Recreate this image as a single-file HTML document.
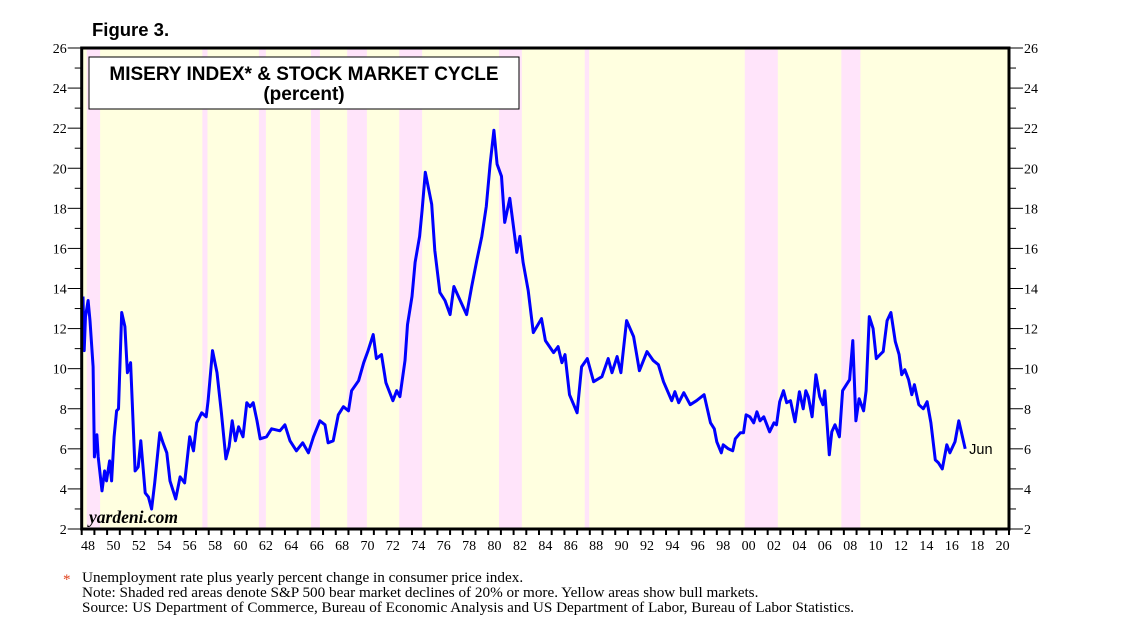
<!DOCTYPE html>
<html><head><meta charset="utf-8">
<style>
body{margin:0;background:#fff;width:1138px;height:628px;overflow:hidden}
svg{display:block}
</style></head><body>
<svg id="chart" width="1138" height="628" xmlns="http://www.w3.org/2000/svg">
<text x="92" y="36" font-family="Liberation Sans, sans-serif" font-weight="bold" font-size="18.5">Figure 3.</text>
<g id="plot"></g>
<text x="63" y="584" fill="#e0401a" font-family="Liberation Serif, serif" font-size="15">*</text>
<text x="82" y="582" font-family="Liberation Serif, serif" font-size="15.2">Unemployment rate plus yearly percent change in consumer price index.</text>
<text x="82" y="597" font-family="Liberation Serif, serif" font-size="15.2">Note: Shaded red areas denote S&amp;P 500 bear market declines of 20% or more. Yellow areas show bull markets.</text>
<text x="82" y="612" font-family="Liberation Serif, serif" font-size="15.2">Source: US Department of Commerce, Bureau of Economic Analysis and US Department of Labor, Bureau of Labor Statistics.</text>
</svg>
<script>
const bearStarts=[1948.4,1957.5,1961.95,1966.05,1968.9,1973.0,1980.85,1987.6,2000.2,2007.8];
const bearEnds=[1949.45,1957.9,1962.5,1966.75,1970.45,1974.8,1982.65,1987.95,2002.8,2009.3];
const yearsData=[1948.1,1948.2,1948.3,1948.5,1948.65,1948.9,1949.0,1949.2,1949.3,1949.6,1949.8,1949.95,1950.2,1950.35,1950.55,1950.75,1950.9,1951.15,1951.4,1951.6,1951.85,1952.2,1952.45,1952.65,1953.0,1953.25,1953.5,1953.75,1954.15,1954.4,1954.7,1954.95,1955.4,1955.75,1956.1,1956.5,1956.8,1957.05,1957.45,1957.8,1957.95,1958.3,1958.65,1959.0,1959.35,1959.6,1959.85,1960.1,1960.35,1960.7,1961.0,1961.25,1961.5,1961.8,1962.05,1962.55,1962.95,1963.6,1964.0,1964.4,1964.9,1965.4,1965.85,1966.25,1966.75,1967.15,1967.4,1967.8,1968.2,1968.6,1969.0,1969.25,1969.8,1970.2,1970.55,1970.95,1971.2,1971.6,1971.95,1972.5,1972.8,1973.05,1973.45,1973.65,1974.0,1974.25,1974.6,1974.8,1975.05,1975.3,1975.55,1975.8,1976.2,1976.6,1977.0,1977.3,1977.8,1978.3,1978.7,1979.1,1979.5,1979.85,1980.15,1980.45,1980.7,1981.05,1981.3,1981.7,1982.25,1982.5,1982.75,1983.15,1983.55,1984.2,1984.5,1985.15,1985.5,1985.8,1986.05,1986.4,1987.0,1987.35,1987.8,1988.3,1988.95,1989.45,1989.75,1990.15,1990.45,1990.9,1991.45,1991.9,1992.5,1993.0,1993.4,1993.8,1994.45,1994.7,1995.0,1995.4,1995.9,1996.4,1997.0,1997.5,1997.8,1998.0,1998.35,1998.5,1998.9,1999.25,1999.45,1999.85,2000.1,2000.3,2000.6,2000.9,2001.15,2001.4,2001.7,2002.15,2002.5,2002.7,2002.95,2003.25,2003.5,2003.8,2004.15,2004.5,2004.8,2005.0,2005.2,2005.5,2005.8,2006.1,2006.35,2006.5,2006.85,2007.05,2007.3,2007.65,2007.9,2008.2,2008.45,2008.7,2008.95,2009.2,2009.55,2009.75,2010.0,2010.3,2010.55,2010.85,2011.1,2011.4,2011.7,2012.05,2012.35,2012.55,2012.8,2013.1,2013.35,2013.55,2013.9,2014.25,2014.55,2014.85,2015.2,2015.45,2015.75,2016.1,2016.35,2016.75,2017.05,2017.55];
const miseryValues=[13.6,10.9,12.6,13.4,12.4,10.1,5.6,6.7,5.6,3.9,4.9,4.4,5.4,4.4,6.6,7.9,8.0,12.8,12.1,9.8,10.3,4.9,5.1,6.4,3.8,3.6,3.0,4.3,6.8,6.3,5.8,4.4,3.5,4.6,4.3,6.6,5.9,7.3,7.8,7.6,8.4,10.9,9.8,7.8,5.5,6.1,7.4,6.4,7.1,6.6,8.3,8.1,8.3,7.4,6.5,6.6,7.0,6.9,7.2,6.4,5.9,6.3,5.8,6.6,7.4,7.2,6.3,6.4,7.7,8.1,7.9,8.9,9.4,10.3,10.9,11.7,10.5,10.7,9.3,8.4,8.9,8.6,10.4,12.2,13.6,15.3,16.6,17.9,19.8,19.0,18.2,15.9,13.8,13.4,12.7,14.1,13.4,12.7,14.1,15.4,16.6,18.1,20.2,21.9,20.2,19.6,17.3,18.5,15.8,16.6,15.3,13.9,11.8,12.5,11.4,10.8,11.1,10.3,10.7,8.7,7.8,10.1,10.5,9.35,9.6,10.5,9.8,10.6,9.8,12.4,11.6,9.9,10.85,10.4,10.2,9.35,8.4,8.85,8.3,8.8,8.2,8.4,8.7,7.3,7.0,6.35,5.8,6.2,6.0,5.9,6.5,6.8,6.8,7.7,7.6,7.3,7.85,7.4,7.6,6.85,7.3,7.2,8.35,8.9,8.3,8.4,7.35,8.85,8.0,8.9,8.6,7.6,9.7,8.6,8.2,8.9,5.7,6.85,7.2,6.6,8.9,9.2,9.45,11.4,7.4,8.5,7.9,8.9,12.6,12.0,10.5,10.7,10.85,12.4,12.8,11.35,10.7,9.7,9.95,9.45,8.7,9.2,8.2,8.0,8.35,7.3,5.45,5.3,5.0,6.2,5.8,6.35,7.4,6.0];
const yTickLabels=[2,4,6,8,10,12,14,16,18,20,22,24,26];
const xTickLabels=["48","50","52","54","56","58","60","62","64","66","68","70","72","74","76","78","80","82","84","86","88","90","92","94","96","98","00","02","04","06","08","10","12","14","16","18","20"];

const L=81.7,R=1009,T=48,B=529,Y0=1948,Y1=2021,V0=2,V1=26;
const xs=y=>L+(y-Y0)*(R-L)/(Y1-Y0);
const ys=v=>B-(v-V0)*(B-T)/(V1-V0);
const NS='http://www.w3.org/2000/svg';
const g=document.getElementById('plot');
function mk(tag,attrs,parent){const e=document.createElementNS(NS,tag);for(const k in attrs)e.setAttribute(k,attrs[k]);(parent||g).appendChild(e);return e;}

let bg=mk('rect',{x:L,y:T,width:R-L,height:B-T,fill:'#ffffe0'});


for(let i=0;i<bearStarts.length;i++){
  let r=mk('rect',{x:xs(bearStarts[i]),y:T,width:xs(bearEnds[i])-xs(bearStarts[i]),height:B-T,fill:'#ffe4fa'});
  
  
}
let tb=mk('rect',{x:89,y:57,width:430,height:52,fill:'#fff',stroke:'#000','stroke-width':1});


let t1=mk('text',{x:304,y:80,'text-anchor':'middle','font-family':'Liberation Sans, sans-serif','font-weight':'bold','font-size':19});
t1.textContent='MISERY INDEX* & STOCK MARKET CYCLE';


let t2=mk('text',{x:304,y:100,'text-anchor':'middle','font-family':'Liberation Sans, sans-serif','font-weight':'bold','font-size':19});
t2.textContent='(percent)';


let wm=mk('text',{x:89,y:523,'font-family':'Liberation Serif, serif','font-style':'italic','font-weight':'bold','font-size':17.5});
wm.textContent='yardeni.com';


let d='';
for(let i=0;i<yearsData.length;i++){d+=(i?'L':'M')+xs(yearsData[i]).toFixed(1)+','+ys(miseryValues[i]).toFixed(1);}
let ln=mk('path',{d:d,fill:'none',stroke:'#0000ff','stroke-width':3,'stroke-linejoin':'round'});


let jn=mk('text',{x:xs(yearsData[yearsData.length-1])+4,y:ys(miseryValues[miseryValues.length-1])+5,'font-family':'Liberation Sans, sans-serif','font-size':14.5});
jn.textContent='Jun';


let fr=mk('rect',{x:L,y:T,width:R-L,height:B-T,fill:'none',stroke:'#000','stroke-width':3});


for(let v=V0;v<=V1;v++){
  const y=ys(v),major=v%2===0;
  mk('line',{x1:L-(major?14:7),x2:L,y1:y,y2:y,stroke:'#000','stroke-width':1});
  mk('line',{x1:R,x2:R+(major?14:7),y1:y,y2:y,stroke:'#000','stroke-width':1});
}
yTickLabels.forEach(v=>{
  let a=mk('text',{x:L-15,y:ys(v)+5,'text-anchor':'end','font-family':'Liberation Serif, serif','font-size':14});
  a.textContent=v;
  
  
  let b=mk('text',{x:R+15,y:ys(v)+5,'font-family':'Liberation Serif, serif','font-size':14});
  b.textContent=v;
  
  
});
for(let yr=Y0;yr<=Y1;yr++){mk('line',{x1:xs(yr),x2:xs(yr),y1:B,y2:B+6,stroke:'#000','stroke-width':2});}
xTickLabels.forEach((lab,i)=>{
  let a=mk('text',{x:xs(Y0+2*i+0.5),y:B+21,'text-anchor':'middle','font-family':'Liberation Serif, serif','font-size':14});
  a.textContent=lab;
  
  
});
</script>
</body></html>
